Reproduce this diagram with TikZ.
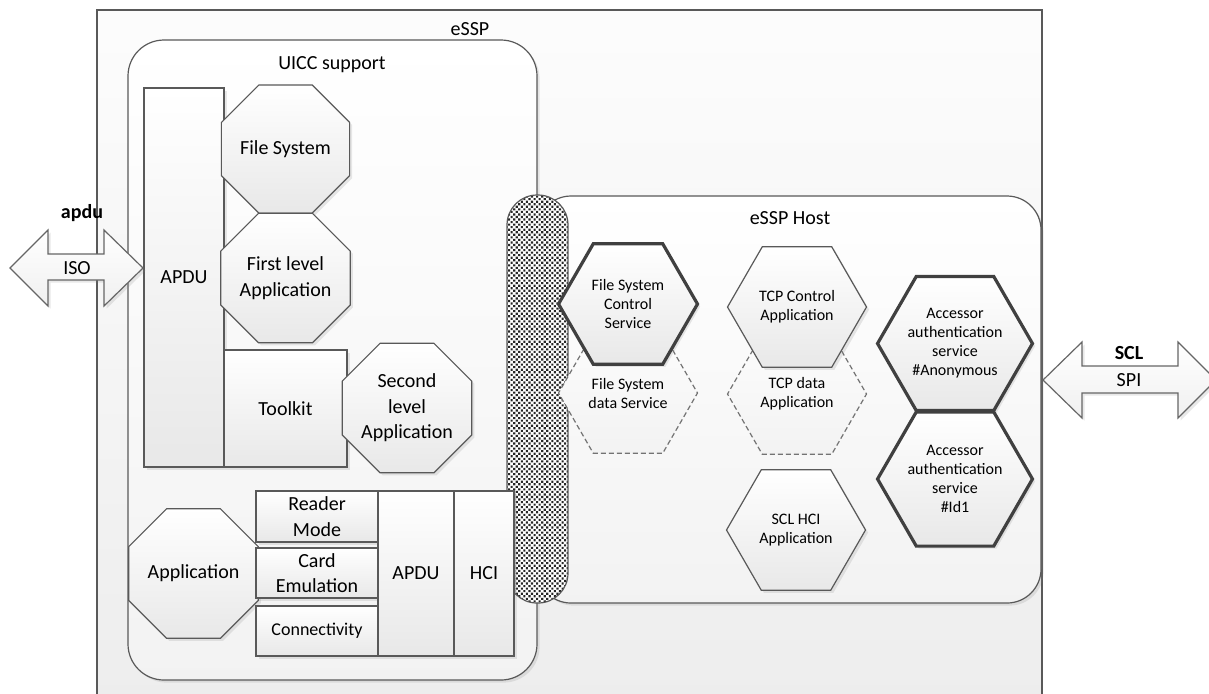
\documentclass[tikz,border=0pt]{standalone}
\usepackage{fontspec}
\setmainfont{Carlito}
\usetikzlibrary{shapes.geometric,shadows,patterns.meta}

\definecolor{lineg}{RGB}{89,89,89}
\definecolor{thickg}{RGB}{64,64,64}

\tikzset{
  shad/.style={drop shadow={shadow xshift=1.3pt,shadow yshift=-1.3pt,opacity=0.18}},
  part/.style={draw=lineg, line width=0.6pt, top color=white, bottom color=black!9,
    align=center, inner sep=0pt, font=\fontsize{10}{12.8}\selectfont},
  blk/.style={part, shad},
  octa/.style={blk, regular polygon, regular polygon sides=8},
  hexa/.style={part, regular polygon, regular polygon sides=6, minimum size=69.5pt,
    font=\fontsize{8}{9.5}\selectfont},
  hexsolid/.style={hexa, shad},
  hexbold/.style={hexa, shad, draw=thickg, line width=1.6pt},
  hexdash/.style={hexa, dash pattern=on 2.5pt off 1.5pt, draw=black!55, top color=black!1, bottom color=black!5},
  grp/.style={draw=lineg, line width=0.6pt, top color=white, bottom color=black!5, shad},
  txt/.style={inner sep=1pt, font=\fontsize{10}{12.8}\selectfont},
  boldtxt/.style={inner sep=1pt, font=\bfseries\fontsize{10}{12.8}\selectfont},
  bigarrow/.style={draw=black!60, line width=0.6pt, top color=white, bottom color=black!6, shad},
}

\begin{document}
\begin{tikzpicture}[x=0.5pt,y=-0.5pt]
\useasboundingbox (0,0) rectangle (1209,693);

% eSSP frame
\path[top color=black!1, bottom color=black!7] (97,10) rectangle (1042,700);
\draw[draw=lineg, line width=0.6pt] (97,700) -- (97,10) -- (1042,10) -- (1042,700);
\node[txt] (essp) at (470,29) {eSSP};

% UICC support
\draw[grp, rounded corners=18pt] (128,40) rectangle (537,680);
\node[txt] (uicc) at (332,65) {UICC support};

% eSSP Host
\draw[grp, rounded corners=17pt] (537,196) rectangle (1041,603);
\node[txt] (host) at (790,218) {eSSP Host};

% gate between UICC and host
\node[draw=lineg, line width=0.6pt, preaction={fill=white},
  pattern={Dots[distance=1.8pt, radius=0.75pt, angle=45]}, pattern color=black!85,
  rounded corners=15pt, minimum width=30.5pt, minimum height=204pt] (gate) at (537.5,399) {};

% UICC stack
\node[blk, minimum width=40pt, minimum height=189.5pt] (apduL) at (184,277.5) {APDU};
\node[octa, minimum size=66.6pt] (fs) at (285.5,149) {File System};
\node[octa, minimum size=66.6pt] (lvl1) at (285.5,278) {First level\\Application};
\node[blk, minimum width=61.5pt, minimum height=58.5pt] (toolkit) at (285.5,408.5) {Toolkit};
\node[octa, minimum size=64.9pt] (lvl2) at (407,408) {Second\\level\\Application};

% contactless stack
\node[octa, minimum size=69.3pt] (app) at (193.5,573.5) {Application};
\node[blk, minimum width=61pt, minimum height=25.5pt] (reader) at (317,516.5) {Reader\\Mode};
\node[blk, minimum width=61pt, minimum height=25pt] (card) at (317,573) {Card\\Emulation};
\node[blk, minimum width=61pt, minimum height=25pt, font=\fontsize{9}{11}\selectfont] (conn) at (317,631) {Connectivity};
\node[blk, minimum width=38pt, minimum height=82.5pt] (apduB) at (416,573.5) {APDU};
\node[blk, minimum width=30pt, minimum height=82.5pt] (hci) at (484,573.5) {HCI};

% host services
\node[hexdash] (fsdata) at (628,393) {File System\\data Service};
\node[hexbold] (fsctrl) at (628,304) {File System\\Control\\Service};
\node[hexdash] (tcpdata) at (797,394) {TCP data\\Application};
\node[hexsolid] (tcpctrl) at (797,307) {TCP Control\\Application};
\node[hexsolid] (sclhci) at (796,530) {SCL HCI\\Application};
\node[hexbold, minimum size=70pt] (anon) at (955,343.5) {Accessor\\authentication\\service\\\#Anonymous};
\node[hexbold, minimum size=70pt] (id1) at (955,479) {Accessor\\authentication\\service\\\#Id1};

% ISO link
\draw[bigarrow] (10,268) -- (48,230) -- (48,254) -- (104,254) -- (104,230) -- (143,268)
  -- (104,306) -- (104,280) -- (48,280) -- (48,306) -- cycle;
\node[txt] (iso) at (77,268) {ISO};
\node[boldtxt] (apdu) at (82,213) {apdu};

% SPI link
\draw[bigarrow] (1043,380) -- (1082,342) -- (1082,366) -- (1178,366) -- (1178,342) -- (1216,380)
  -- (1178,418) -- (1178,393) -- (1082,393) -- (1082,418) -- cycle;
\node[txt] (spi) at (1129,380) {SPI};
\node[boldtxt] (scl) at (1129,353) {SCL};
\end{tikzpicture}
\end{document}
